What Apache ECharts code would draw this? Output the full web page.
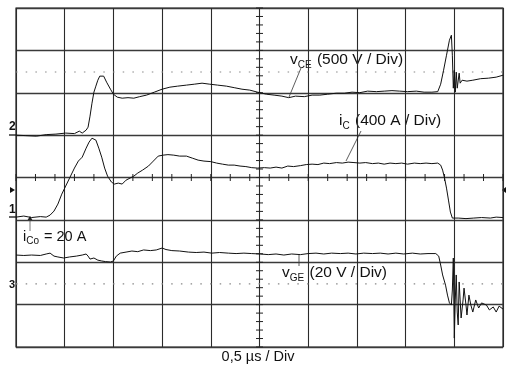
<!DOCTYPE html>
<html>
<head>
<meta charset="utf-8">
<script src="https://cdn.jsdelivr.net/npm/echarts@6/dist/echarts.min.js"></script>
<style>
html,body{margin:0;padding:0;background:#fff;}
#chart{width:516px;height:375px;}
</style>
</head>
<body>
<div id="chart"></div>
<script>
// Time axis: 0.5 µs per division, 10 divisions
const timeTicks = [0, 0.5, 1, 1.5, 2, 2.5, 3, 3.5, 4, 4.5, 5];
const xLabel = '0,5 µs / Div';

// v_CE trace [time µs, volts], 500 V/Div
const vceData = [
[0,0],[0.10,-6],[0.21,-12],[0.31,6],[0.41,12],[0.51,24],[0.60,18],[0.65,47],[0.68,24],[0.72,59],
[0.74,94],[0.76,224],[0.78,377],[0.80,507],[0.82,578],[0.84,648],[0.86,696],[0.88,707],[0.90,696],
[0.93,625],[0.97,542],[1.00,483],[1.04,448],[1.09,436],[1.15,442],[1.21,436],[1.27,454],[1.34,472],
[1.42,507],[1.50,542],[1.58,566],[1.66,578],[1.75,590],[1.83,601],[1.91,613],[1.99,601],[2.07,590],
[2.16,578],[2.24,560],[2.32,542],[2.40,531],[2.48,507],[2.57,483],[2.65,472],[2.73,460],[2.80,442],
[2.87,460],[2.96,454],[3.04,472],[3.12,472],[3.20,483],[3.29,495],[3.37,495],[3.45,507],[3.53,501],
[3.61,519],[3.70,513],[3.78,519],[3.86,525],[3.94,519],[4.02,513],[4.11,519],[4.19,507],[4.27,507],
[4.33,513],[4.36,601],[4.39,766],[4.42,943],[4.45,1120],[4.47,1179],[4.48,943],[4.49,554],[4.50,766],
[4.51,507],[4.52,743],[4.53,554],[4.55,731],[4.56,613],[4.58,648],[4.63,637],[4.69,648],[4.77,666],
[4.85,672],[4.93,684],[5.00,707]
];

// i_C trace [time µs, amperes], 400 A/Div
const icData = [
[0,18],[0.08,28],[0.16,14],[0.25,23],[0.31,18],[0.35,37],[0.39,75],[0.43,141],[0.47,235],[0.51,311],
[0.55,386],[0.60,481],[0.64,547],[0.68,584],[0.72,669],[0.75,726],[0.78,763],[0.80,768],[0.82,745],
[0.85,669],[0.88,584],[0.91,481],[0.94,405],[0.98,349],[1.01,330],[1.05,339],[1.09,330],[1.13,367],
[1.17,386],[1.21,405],[1.25,434],[1.30,462],[1.36,500],[1.41,547],[1.46,594],[1.51,603],[1.56,608],
[1.62,603],[1.68,594],[1.75,594],[1.81,575],[1.87,556],[1.93,547],[2.00,542],[2.06,528],[2.12,518],
[2.18,509],[2.24,509],[2.30,500],[2.36,495],[2.42,485],[2.48,481],[2.55,485],[2.61,481],[2.67,490],
[2.73,481],[2.79,500],[2.85,495],[2.92,504],[2.98,514],[3.04,518],[3.10,514],[3.16,528],[3.22,523],
[3.29,533],[3.35,528],[3.41,537],[3.47,533],[3.53,528],[3.59,533],[3.66,523],[3.72,528],[3.78,518],
[3.84,528],[3.90,523],[3.96,528],[4.02,518],[4.09,528],[4.15,523],[4.21,528],[4.27,523],[4.33,528],
[4.36,509],[4.38,462],[4.40,386],[4.42,292],[4.44,179],[4.46,66],[4.48,9],[4.54,9],[4.62,4],[4.70,9],
[4.78,14],[4.87,9],[4.93,18],[5.00,14]
];

// v_GE trace [time µs, volts], 20 V/Div
const vgeData = [
[0,13.4],[0.08,13.2],[0.16,13.4],[0.25,13.2],[0.31,13.9],[0.35,14.3],[0.39,12.9],[0.43,12.5],[0.49,12.0],
[0.55,12.5],[0.62,12.9],[0.68,13.4],[0.72,13.9],[0.74,12.9],[0.76,11.5],[0.80,12.0],[0.84,11.0],[0.88,10.6],
[0.92,10.3],[0.97,10.1],[1.00,10.6],[1.03,12.9],[1.07,14.3],[1.13,14.8],[1.19,15.3],[1.25,15.0],[1.31,15.8],
[1.38,15.5],[1.44,15.8],[1.50,16.7],[1.54,16.0],[1.60,15.5],[1.68,15.3],[1.77,14.8],[1.85,14.6],[1.93,14.8],
[2.01,14.3],[2.09,14.6],[2.18,14.3],[2.26,14.1],[2.34,14.3],[2.42,14.1],[2.51,13.9],[2.59,13.6],[2.67,13.9],
[2.75,13.4],[2.83,13.9],[2.92,13.6],[3.00,14.1],[3.08,14.3],[3.16,13.9],[3.24,14.3],[3.33,14.1],[3.41,14.3],
[3.49,13.9],[3.57,14.3],[3.66,14.1],[3.74,14.3],[3.82,13.9],[3.90,14.3],[3.98,13.9],[4.07,14.3],[4.15,13.9],
[4.23,14.1],[4.31,14.1],[4.34,12.9],[4.36,8.7],[4.38,4.0],[4.41,-0.8],[4.43,-5.5],[4.45,-9.2],[4.47,-10.2],
[4.48,-3.1],[4.49,12.0],[4.50,-25.8],[4.51,-7.8],[4.52,4.0],[4.53,-13.5],[4.54,-19.6],[4.55,0.7],[4.56,-7.8],
[4.57,-16.3],[4.59,-7.8],[4.60,-2.2],[4.62,-10.2],[4.63,-14.9],[4.65,-5.5],[4.67,-10.2],[4.69,-13.5],
[4.72,-7.8],[4.75,-11.6],[4.78,-9.2],[4.83,-10.2],[4.86,-12.5],[4.90,-11.1],[4.93,-13.5],[4.96,-10.7],[5.00,-12.1]
];

// Channel settings: scale per division and ground level (in divisions from bottom)
const vceScale = 500, vceGround = 5.0;
const icScale = 400, icGround = 3.02;
const vgeScale = 20, vgeGround = 1.5;
// dotted reference levels (divisions)
const refLevels = [6.49, 1.49];

const chart = echarts.init(document.getElementById('chart'), null, {renderer:'canvas'});
const DIVS_Y = 8;
const font = '"Liberation Sans", Arial, sans-serif';

// minor ticks on centre cross (decoration)
const crossTicks = [];
for (let i = 0; i <= 50; i++) crossTicks.push([i * 0.1, 4, 'h']);
for (let j = 0; j <= 40; j++) crossTicks.push([2.5, j * 0.2, 'v']);

function chAxis(scale, ground) {
  return {type:'value', show:false, min:-ground*scale, max:(DIVS_Y-ground)*scale,
          splitLine:{show:false}, axisLine:{show:false}, axisTick:{show:false}, axisLabel:{show:false}};
}

function textEl(x, y, rich, txt) {
  return {type:'text', left:x, top:y, style:{text:txt, rich:rich, font:'15px ' + font, fill:'#111'}};
}
const richBig = {
  m:{fontSize:15.5, fontFamily:font, color:'#111'},
  s:{fontSize:10, fontFamily:font, color:'#111', padding:[10,1,0,0]}
};
const richMid = {
  m:{fontSize:14.5, fontFamily:font, color:'#111'},
  s:{fontSize:10, fontFamily:font, color:'#111', padding:[9,1,0,0]}
};

const option = {
  backgroundColor:'#fff',
  animation:false,
  grid:{left:16, right:13, top:8, bottom:28, show:true, borderColor:'#222', borderWidth:1.2},
  xAxis:{type:'value', min:0, max:5, interval:0.5,
    axisLine:{show:false}, axisTick:{show:false}, axisLabel:{show:false},
    splitLine:{show:true, lineStyle:{color:'#2b2b2b', width:1.1}}},
  yAxis:[
    {type:'value', min:0, max:DIVS_Y, interval:1,
      axisLine:{show:false}, axisTick:{show:false}, axisLabel:{show:false},
      splitLine:{show:true, lineStyle:{color:'#3a3a3a', width:1.3}}},
    chAxis(vceScale, vceGround),
    chAxis(icScale, icGround),
    chAxis(vgeScale, vgeGround)
  ],
  series:[
    {type:'line', yAxisIndex:0, data:[[0,refLevels[0]],[5,refLevels[0]]], showSymbol:false, silent:true,
      lineStyle:{color:'#888', width:1.2, type:[1.5,8.2]}},
    {type:'line', yAxisIndex:0, data:[[0,refLevels[1]],[5,refLevels[1]]], showSymbol:false, silent:true,
      lineStyle:{color:'#888', width:1.2, type:[1.5,8.2]}},
    {type:'custom', yAxisIndex:0, data:crossTicks, silent:true,
      renderItem:function(params, api){
        const p = api.coord([api.value(0), api.value(1)]);
        const isH = params.dataIndex <= 50;
        const len = (isH ? (params.dataIndex % 2 === 0 ? 3.5 : 0) : 3.5);
        if (len === 0) return null;
        return {type:'line', shape: isH ? {x1:p[0], y1:p[1]-len, x2:p[0], y2:p[1]+len}
                                       : {x1:p[0]-len, y1:p[1], x2:p[0]+len, y2:p[1]},
                style:{stroke:'#222', lineWidth:1}};
      }},
    {type:'line', yAxisIndex:1, data:vceData, showSymbol:false, lineStyle:{color:'#111', width:1}},
    {type:'line', yAxisIndex:2, data:icData, showSymbol:false, lineStyle:{color:'#111', width:1}},
    {type:'line', yAxisIndex:3, data:vgeData, showSymbol:false, lineStyle:{color:'#111', width:1}}
  ],
  graphic:[
    {type:'text', left:'center', top:349, style:{text:xLabel, font:'14.5px ' + font, fill:'#111'}},
    textEl(290, 52, richBig, '{m|v}{s|CE}{m| (500 V / Div)}'),
    textEl(339, 113, richBig, '{m|i}{s|C}{m| (400 A / Div)}'),
    textEl(282, 265, richBig, '{m|v}{s|GE}{m| (20 V / Div)}'),
    textEl(23, 229, richMid, '{m|i}{s|Co}{m| = 20 A}'),
    {type:'line', shape:{x1:301, y1:68, x2:289, y2:97}, style:{stroke:'#333', lineWidth:0.8}},
    {type:'line', shape:{x1:361, y1:131, x2:346, y2:161}, style:{stroke:'#333', lineWidth:0.8}},
    {type:'line', shape:{x1:299, y1:255, x2:299, y2:266}, style:{stroke:'#333', lineWidth:0.8}},
    {type:'line', shape:{x1:30, y1:220, x2:30, y2:231}, style:{stroke:'#555', lineWidth:0.8}},
    {type:'polygon', shape:{points:[[27,221],[33,221],[30,216]]}, style:{fill:'#222'}},
    // channel markers
    {type:'text', left:9, top:121, style:{text:'2', font:'bold 12px ' + font, fill:'#111'}},
    {type:'line', shape:{x1:9, y1:135, x2:16, y2:135}, style:{stroke:'#111', lineWidth:1.3}},
    {type:'text', left:9, top:204, style:{text:'1', font:'bold 12px ' + font, fill:'#111'}},
    {type:'line', shape:{x1:9, y1:217, x2:16, y2:217}, style:{stroke:'#111', lineWidth:1.3}},
    {type:'text', left:9, top:279, style:{text:'3', font:'bold 11px ' + font, fill:'#111'}},
    {type:'polygon', shape:{points:[[10,187],[10,193],[15,190]]}, style:{fill:'#111'}},
    {type:'polygon', shape:{points:[[506,187],[506,193],[502,190]]}, style:{fill:'#111'}}
  ]
};
chart.setOption(option);
</script>
</body>
</html>
